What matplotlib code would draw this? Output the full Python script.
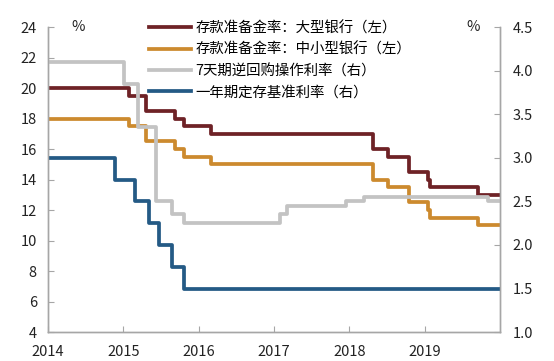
import matplotlib
matplotlib.use("Agg")
import matplotlib.pyplot as plt

plt.rcParams["font.family"] = ["Noto Sans CJK SC", "DejaVu Sans"]

# ── data (decimal years, value starts at that date) ─────────
rrr_dates = [2014.0, 2015.08, 2015.30, 2015.68, 2015.81, 2016.16,
             2018.31, 2018.51, 2018.79, 2019.04, 2019.07, 2019.71, 2020.0]
rrr_large = [20, 19.5, 18.5, 18, 17.5, 17, 16, 15.5, 14.5, 14, 13.5, 13, 13]
rrr_small = [18, 17.5, 16.5, 16, 15.5, 15, 14, 13.5, 12.5, 12, 11.5, 11, 11]

repo_dates = [2014.0, 2015.01, 2015.19, 2015.44, 2015.65, 2015.80,
              2017.08, 2017.17, 2017.95, 2018.20, 2019.84, 2020.0]
repo_rate = [4.10, 3.85, 3.35, 2.50, 2.35, 2.25, 2.35, 2.45, 2.50, 2.55, 2.50, 2.50]

dep_dates = [2014.0, 2014.89, 2015.16, 2015.34, 2015.48, 2015.65, 2015.81, 2020.0]
dep_rate = [3.0, 2.75, 2.5, 2.25, 2.0, 1.75, 1.5, 1.5]

labels = ["存款准备金率：大型银行（左）", "存款准备金率：中小型银行（左）",
          "7天期逆回购操作利率（右）", "一年期定存基准利率（右）"]
colors = ["#6E2226", "#CC8A2E", "#C3C3C3", "#245A85"]
years = [2014, 2015, 2016, 2017, 2018, 2019]
right_ticks = [1.0, 1.5, 2.0, 2.5, 3.0, 3.5, 4.0, 4.5]

# ── figure ─────────────────────────────────────────────────
fig = plt.figure(figsize=(5.54, 3.61), dpi=100)
ax = fig.add_axes([0.0866, 0.080, 0.816, 0.845])
ax2 = ax.twinx()

lw = 2.7
l1, = ax.step(rrr_dates, rrr_large, where="post", color=colors[0], lw=lw)
l2, = ax.step(rrr_dates, rrr_small, where="post", color=colors[1], lw=lw)
l3, = ax2.step(repo_dates, repo_rate, where="post", color=colors[2], lw=lw)
l4, = ax2.step(dep_dates, dep_rate, where="post", color=colors[3], lw=lw)

ax.set_xlim(2014, 2020)
ax.set_ylim(4, 24)
ax2.set_ylim(1.0, 4.5)
ax.set_xticks(years)
ax.set_xticklabels([str(y) for y in years])
ax.set_yticks(range(4, 25, 2))
ax2.set_yticks(right_ticks)
ax2.set_yticklabels([f"{v:.1f}" for v in right_ticks])

spine_c = "#A6A6A6"
for a in (ax, ax2):
    a.spines["top"].set_visible(False)
    for s in ("left", "right", "bottom"):
        a.spines[s].set_color(spine_c)
        a.spines[s].set_linewidth(1.0)
    a.tick_params(direction="in", length=4, color=spine_c,
                  labelsize=10.5, labelcolor="#222222")
ax.tick_params(axis="x", pad=9)
ax.tick_params(axis="y", pad=8)
ax2.tick_params(axis="y", pad=9)

fig.text(78 / 554, 1 - 27 / 361, "%", ha="center", va="center", fontsize=10.5, color="#222222")
fig.text(473 / 554, 1 - 27 / 361, "%", ha="center", va="center", fontsize=10.5, color="#222222")

fig.legend([l1, l2, l3, l4], labels, loc="upper left",
           bbox_to_anchor=(149 / 554, 1 - 21 / 361), frameon=False,
           fontsize=10.4, handlelength=2.9, handletextpad=0.3,
           labelspacing=0.5, borderpad=0, borderaxespad=0)

fig.savefig("out.png", dpi=100)
